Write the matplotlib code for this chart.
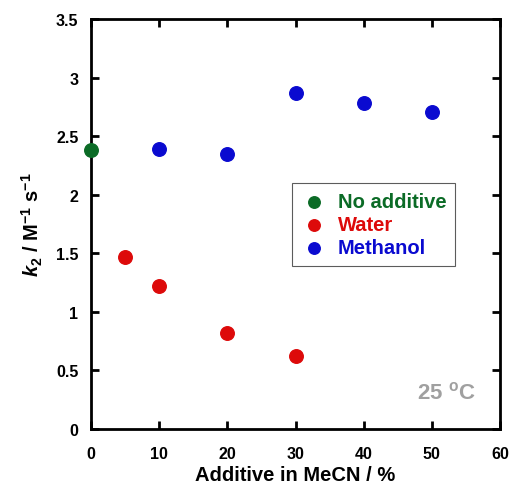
import numpy as np
import matplotlib
matplotlib.use('Agg')
import matplotlib.pyplot as plt

# data
none_x = [0]
none_y = [2.38]

water_x = [5, 10, 20, 30]
water_y = [1.47, 1.22, 0.82, 0.62]

meoh_x = [10, 20, 30, 40, 50]
meoh_y = [2.39, 2.35, 2.87, 2.78, 2.71]

GREEN = '#0b6b26'
RED = '#dd0a0a'
BLUE = '#0a0ad0'

plt.rcParams['font.family'] = 'Liberation Sans'
plt.rcParams['font.weight'] = 'bold'
plt.rcParams['mathtext.fontset'] = 'custom'
plt.rcParams['mathtext.rm'] = 'Liberation Sans:bold'
plt.rcParams['mathtext.bf'] = 'Liberation Sans:bold'
plt.rcParams['mathtext.it'] = 'Liberation Sans:italic:bold'

fig = plt.figure(figsize=(5.09, 4.85), dpi=100)
ax = fig.add_axes([91 / 509, 55 / 485, 409 / 509, 410 / 485])

ax.scatter(none_x, none_y, s=95, color=GREEN, label='No additive', zorder=3, clip_on=False)
ax.scatter(water_x, water_y, s=95, color=RED, label='Water', zorder=3)
ax.scatter(meoh_x, meoh_y, s=95, color=BLUE, label='Methanol', zorder=3)

ax.set_xlim(0, 60)
ax.set_ylim(0, 3.5)
ax.set_xticks(np.arange(0, 61, 10))
ax.set_yticks(np.arange(0, 3.6, 0.5))
ax.set_yticklabels(['0', '0.5', '1', '1.5', '2', '2.5', '3', '3.5'])

for sp in ax.spines.values():
    sp.set_linewidth(2)
ax.tick_params(direction='in', length=6, width=2, top=True, right=True,
               labelsize=11.5, pad=9)
ax.tick_params(axis='x', pad=12)

ax.set_xlabel('Additive in MeCN / %', fontsize=14.5, fontweight='bold', labelpad=3)
ax.set_ylabel(r'$k_2$ / M$^{-1}$ s$^{-1}$', fontsize=14.5, fontweight='bold', labelpad=8)

leg = ax.legend(loc='upper left', bbox_to_anchor=(0.468, 0.625), fontsize=14.5,
                frameon=True, fancybox=False, edgecolor='#333333',
                handletextpad=0.6, borderpad=0.45, labelspacing=0.2,
                handlelength=1.2, scatterpoints=1, markerscale=0.85)
leg.get_frame().set_linewidth(0.8)
for txt, c in zip(leg.get_texts(), [GREEN, RED, BLUE]):
    txt.set_color(c)

ax.text(0.94, 0.09, r'25 $^{\mathrm{o}}$C', transform=ax.transAxes, ha='right',
        va='center', fontsize=16, color='#a0a0a0', fontweight='bold')

fig.savefig('out.png', dpi=100)
